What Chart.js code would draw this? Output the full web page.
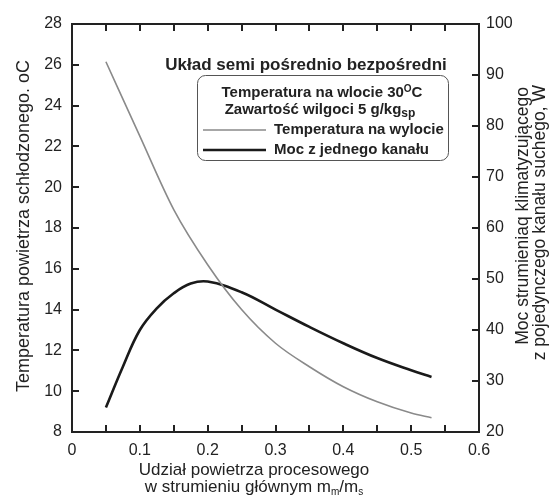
<!DOCTYPE html>
<html>
<head>
<meta charset="utf-8">
<script src="https://cdn.jsdelivr.net/npm/chart.js@4/dist/chart.umd.min.js"></script>
<style>
html, body { margin: 0; padding: 0; background: #fff; }
</style>
</head>
<body>
<canvas id="chart" width="553" height="500"></canvas>
<script>
// values
var xTemp = [0.05, 0.1, 0.15, 0.2, 0.25, 0.3, 0.35, 0.4, 0.45, 0.5, 0.53];
var tempOut = [26.15, 22.5, 18.9, 16.2, 14.0, 12.35, 11.2, 10.22, 9.48, 8.93, 8.7];

var xPower = [0.05, 0.075, 0.1, 0.125, 0.15, 0.175, 0.2, 0.25, 0.3, 0.35, 0.4, 0.45, 0.5, 0.53];
var power = [24.8, 32.8, 40.0, 44.25, 47.2, 49.1, 49.5, 47.4, 44.0, 40.6, 37.4, 34.5, 32.1, 30.8];

var xTicks = { min: 0, max: 0.6, step: 0.05 };
var leftTicks = { min: 8, max: 28, step: 2 };
var rightTicks = { min: 20, max: 100, step: 10 };

var seriesNames = ['Temperatura na wylocie', 'Moc z jednego kanału'];

var FONT = "'Liberation Sans', Arial, sans-serif";
var INK = '#222';

Chart.defaults.font.family = FONT;
Chart.defaults.color = INK;

function pairs(xs, ys) {
    return xs.map(function (x, i) { return { x: x, y: ys[i] }; });
}

function tickValues(t) {
    var out = [];
    var n = Math.round((t.max - t.min) / t.step);
    for (var i = 0; i <= n; i++) out.push(t.min + i * t.step);
    return out;
}

// text with small raised / lowered parts
function richText(ctx, parts, x, y, align) {
    var total = 0;
    parts.forEach(function (p) {
        ctx.font = (p.bold ? 'bold ' : '') + p.size + 'px ' + FONT;
        total += ctx.measureText(p.t).width;
    });
    var cx = align === 'center' ? x - total / 2 : (align === 'right' ? x - total : x);
    ctx.textAlign = 'left';
    ctx.textBaseline = 'middle';
    parts.forEach(function (p) {
        ctx.font = (p.bold ? 'bold ' : '') + p.size + 'px ' + FONT;
        ctx.fillText(p.t, cx, y + (p.dy || 0));
        cx += ctx.measureText(p.t).width;
    });
}

// inward tick marks on all four sides
function drawInnerTicks(chart) {
    var ctx = chart.ctx;
    var a = chart.chartArea;
    var len = 7;
    var sides = [['x', xTicks], ['xTop', xTicks], ['y', leftTicks], ['y1', rightTicks]];
    ctx.save();
    ctx.globalAlpha = 1;
    ctx.globalCompositeOperation = 'source-over';
    ctx.fillStyle = INK;
    sides.forEach(function (side) {
        var id = side[0];
        var s = chart.scales[id];
        if (!s) return;
        tickValues(side[1]).forEach(function (v) {
            var p = Math.round(s.getPixelForValue(v));
            if (id === 'x') ctx.fillRect(p - 1, Math.round(a.bottom) - len, 2, len);
            if (id === 'xTop') ctx.fillRect(p - 1, Math.round(a.top), 2, len);
            if (id === 'y') ctx.fillRect(Math.round(a.left), p - 1, len, 2);
            if (id === 'y1') ctx.fillRect(Math.round(a.right) - len, p - 1, len, 2);
        });
    });
    ctx.restore();
}

var notes = {
    id: 'notes',
    afterDatasetsDraw: function (chart) {
        drawInnerTicks(chart);
    },
    afterDraw: function (chart) {
        var ctx = chart.ctx;
        drawInnerTicks(chart);

        ctx.save();
        ctx.fillStyle = INK;

        // axis titles
        ctx.save();
        ctx.translate(24, 226);
        ctx.rotate(-Math.PI / 2);
        richText(ctx, [{ t: 'Temperatura powietrza schłodzonego. oC', size: 18 }], 0, 0, 'center');
        ctx.restore();

        ctx.save();
        ctx.translate(523, 87);
        ctx.rotate(-Math.PI / 2);
        richText(ctx, [{ t: 'Moc strumieniaq klimatyzującego', size: 17.5 }], 0, 0, 'right');
        ctx.restore();
        ctx.save();
        ctx.translate(540, 85);
        ctx.rotate(-Math.PI / 2);
        richText(ctx, [{ t: 'z pojedynczego kanału suchego, W', size: 17.5 }], 0, 0, 'right');
        ctx.restore();

        richText(ctx, [{ t: 'Udział powietrza procesowego', size: 17 }], 254, 470, 'center');
        richText(ctx, [
            { t: 'w strumieniu głównym m', size: 17 },
            { t: 'm', size: 10, dy: 5 },
            { t: '/m', size: 17 },
            { t: 's', size: 10, dy: 5 }
        ], 254, 487, 'center');

        // heading and legend box
        richText(ctx, [{ t: 'Układ semi pośrednio bezpośredni', size: 17, bold: true }], 306, 65, 'center');

        ctx.strokeStyle = '#555';
        ctx.lineWidth = 1;
        ctx.beginPath();
        ctx.roundRect(197.5, 75.5, 251, 85, 8);
        ctx.stroke();

        richText(ctx, [
            { t: 'Temperatura na wlocie 30', size: 15, bold: true },
            { t: 'O', size: 10, bold: true, dy: -4 },
            { t: 'C', size: 15, bold: true }
        ], 322, 93, 'center');
        richText(ctx, [
            { t: 'Zawartość wilgoci 5 g/kg', size: 15, bold: true },
            { t: 'sp', size: 12, bold: true, dy: 4 }
        ], 320, 110, 'center');

        var rows = [130, 150];
        chart.data.datasets.forEach(function (ds, i) {
            ctx.strokeStyle = ds.borderColor;
            ctx.lineWidth = ds.borderWidth;
            ctx.beginPath();
            ctx.moveTo(203, rows[i]);
            ctx.lineTo(266, rows[i]);
            ctx.stroke();
            ctx.fillStyle = INK;
            richText(ctx, [{ t: ds.label, size: 15, bold: true }], 274, rows[i], 'left');
        });

        ctx.restore();
    }
};

function xAxis(position, showLabels, size) {
    return {
        type: 'linear',
        position: position,
        min: xTicks.min,
        max: xTicks.max,
        ticks: {
            stepSize: xTicks.step,
            autoSkip: false,
            maxRotation: 0,
            padding: 9,
            font: { size: 16 },
            color: INK,
            callback: function (v) {
                if (!showLabels) return '';
                var k = Math.round(v * 100);
                return k % 10 === 0 ? String(k / 100) : '';
            }
        },
        grid: { drawOnChartArea: false, drawTicks: false },
        border: { display: true, color: INK, width: 2 },
        afterFit: function (s) { s.height = size; }
    };
}

new Chart(document.getElementById('chart'), {
    type: 'line',
    data: {
        datasets: [{
            label: seriesNames[0],
            data: pairs(xTemp, tempOut),
            borderColor: '#8a8a8a',
            borderWidth: 1.6,
            pointRadius: 0,
            cubicInterpolationMode: 'monotone',
            xAxisID: 'x',
            yAxisID: 'y'
        }, {
            label: seriesNames[1],
            data: pairs(xPower, power),
            borderColor: '#1a1a1a',
            borderWidth: 2.6,
            pointRadius: 0,
            tension: 0.4,
            xAxisID: 'x',
            yAxisID: 'y1'
        }]
    },
    options: {
        responsive: false,
        animation: false,
        devicePixelRatio: 1,
        layout: { padding: 0 },
        plugins: {
            legend: { display: false },
            tooltip: { enabled: false }
        },
        scales: {
            x: xAxis('bottom', true, 68),
            xTop: xAxis('top', false, 24),
            y: {
                type: 'linear',
                position: 'left',
                min: leftTicks.min,
                max: leftTicks.max,
                ticks: { stepSize: leftTicks.step, padding: 10, font: { size: 16 }, color: INK },
                grid: { drawOnChartArea: false, drawTicks: false },
                border: { display: true, color: INK, width: 2 },
                afterFit: function (s) { s.width = 72; }
            },
            y1: {
                type: 'linear',
                position: 'right',
                min: rightTicks.min,
                max: rightTicks.max,
                ticks: { stepSize: rightTicks.step, padding: 7, font: { size: 16 }, color: INK },
                grid: { drawOnChartArea: false, drawTicks: false },
                border: { display: true, color: INK, width: 2 },
                afterFit: function (s) { s.width = 74; }
            }
        }
    },
    plugins: [notes]
});
</script>
</body>
</html>
